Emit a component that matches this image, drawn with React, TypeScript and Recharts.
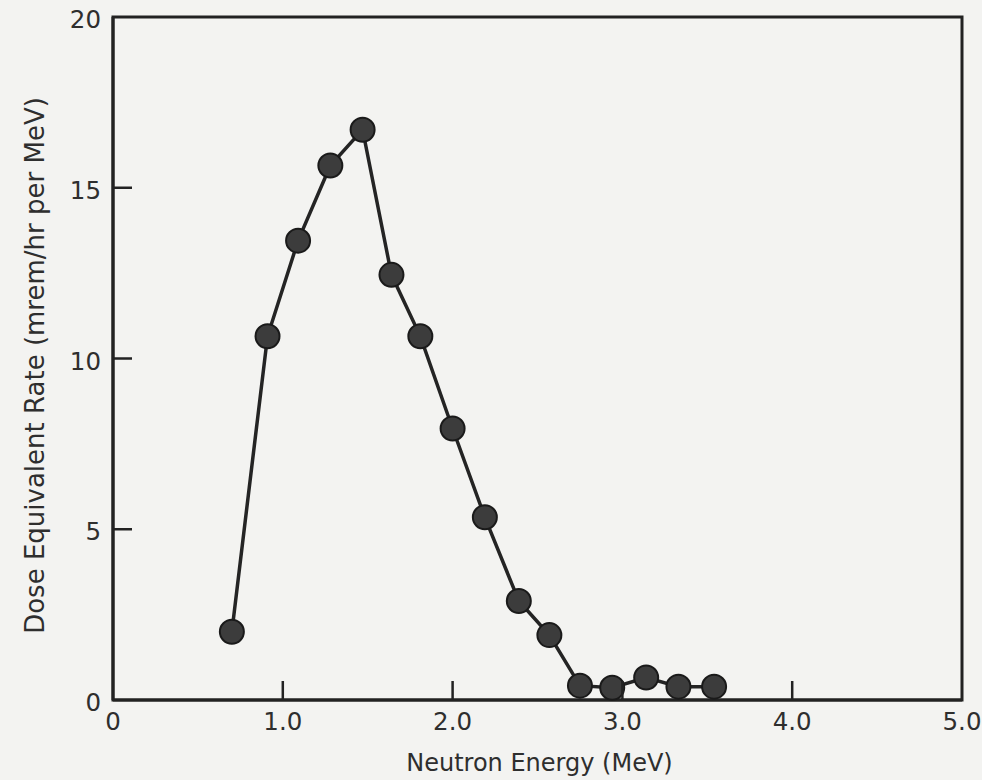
import { LineChart, Line, XAxis, YAxis, ReferenceArea } from "recharts";

// neutron energy (MeV) and dose equivalent rate (mrem/hr per MeV)
const energies = [0.7, 0.91, 1.09, 1.28, 1.47, 1.64, 1.81, 2.0, 2.19, 2.39, 2.57, 2.75, 2.94, 3.14, 3.33, 3.54];
const rates = [2.0, 10.65, 13.45, 15.65, 16.7, 12.45, 10.65, 7.95, 5.35, 2.9, 1.9, 0.42, 0.36, 0.66, 0.39, 0.39];

const xTicks = [0, 1, 2, 3, 4, 5];
const yTicks = [0, 5, 10, 15, 20];

const data = energies.map((e, i) => ({ energy: e, rate: rates[i] }));

const FONT = "'DejaVu Sans', sans-serif";
const INK = "#222";
const TEXT = "#2e2e2e";

// ticks point into the plot, none drawn at the corners
function XTick({ x, y, payload }: any) {
  const v = payload.value as number;
  const inner = v > 0 && v < 5;
  return (
    <g>
      {inner && <line x1={x} x2={x} y1={y} y2={y - 19} stroke={INK} strokeWidth={2.5} />}
      <text x={x} y={y + 30} textAnchor="middle" fontFamily={FONT} fontSize={24.5} fill={TEXT}>
        {v === 0 ? "0" : v.toFixed(1)}
      </text>
    </g>
  );
}

function YTick({ x, y, payload }: any) {
  const v = payload.value as number;
  const inner = v > 0 && v < 20;
  return (
    <g>
      {inner && <line x1={x} x2={x + 19} y1={y} y2={y} stroke={INK} strokeWidth={2.5} />}
      <text x={x - 12} y={y + 11} textAnchor="end" fontFamily={FONT} fontSize={24.5} fill={TEXT}>
        {v}
      </text>
    </g>
  );
}

function YTitle({ viewBox }: any) {
  const cx = 35;
  const cy = viewBox.y + viewBox.height / 2 + 7;
  return (
    <text
      x={cx}
      y={cy}
      transform={`rotate(-90 ${cx} ${cy})`}
      textAnchor="middle"
      dominantBaseline="central"
      fontFamily={FONT}
      fontSize={26}
      fill={TEXT}
    >
      Dose Equivalent Rate (mrem/hr per MeV)
    </text>
  );
}

function XTitle({ viewBox }: any) {
  const cx = viewBox.x + viewBox.width / 2 + 2;
  return (
    <text x={cx} y={771} textAnchor="middle" fontFamily={FONT} fontSize={24} fill={TEXT}>
      Neutron Energy (MeV)
    </text>
  );
}

export default function App() {
  return (
    <div style={{ position: "absolute", left: 0, top: 0, width: 982, height: 780, background: "#f3f3f1" }}>
      <LineChart width={982} height={780} data={data} margin={{ top: 17, right: 20, bottom: 5, left: 0 }}>
        <XAxis
          dataKey="energy"
          type="number"
          domain={[0, 5]}
          ticks={xTicks}
          interval={0}
          height={75}
          axisLine={{ stroke: INK, strokeWidth: 3 }}
          tickLine={false}
          tickSize={0}
          tickMargin={0}
          tick={<XTick />}
          label={<XTitle />}
        />
        <YAxis
          type="number"
          domain={[0, 20]}
          ticks={yTicks}
          interval={0}
          width={113}
          axisLine={{ stroke: INK, strokeWidth: 3 }}
          tickLine={false}
          tickSize={0}
          tickMargin={0}
          tick={<YTick />}
          label={<YTitle />}
        />
        <ReferenceArea x1={0} x2={5} y1={0} y2={20} fill="none" stroke={INK} strokeWidth={3} />
        <Line
          type="linear"
          dataKey="rate"
          stroke="#242424"
          strokeWidth={3.5}
          dot={{ r: 12, fill: "#3c3c3c", stroke: "#1a1a1a", strokeWidth: 2 }}
          isAnimationActive={false}
        />
      </LineChart>
    </div>
  );
}
